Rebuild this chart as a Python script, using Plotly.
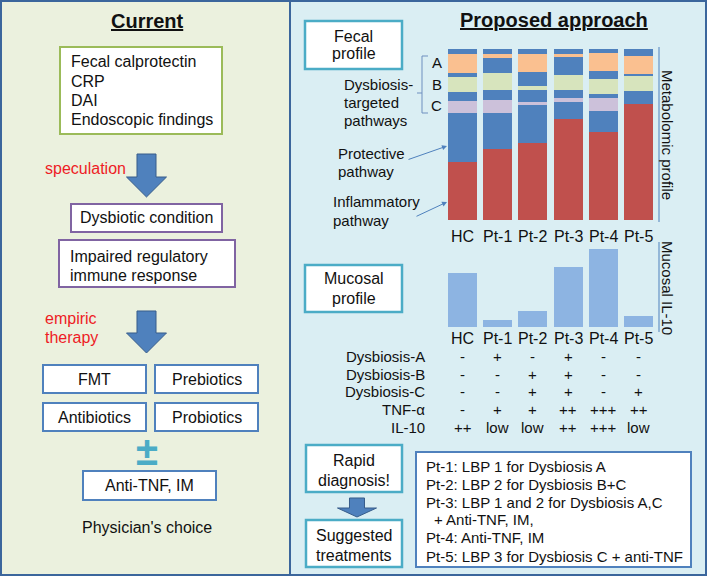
import plotly.graph_objects as go

W, H = 708, 577
FONT = "Liberation Sans, Arial, sans-serif"

# ---------------- data ----------------
categories = ["HC", "Pt-1", "Pt-2", "Pt-3", "Pt-4", "Pt-5"]

# fecal metabolomic profile (% of stacked bar), bottom to top
inflammatory = [33.9, 41.4, 45.0, 59.0, 51.6, 67.8]
protective = [28.7, 21.1, 22.4, 9.8, 12.1, 7.6]
dysbiosis_c = [7.0, 7.6, 1.9, 2.3, 7.4, 0.0]
other_1 = [5.3, 5.8, 6.8, 4.9, 2.5, 0.0]
dysbiosis_b = [8.8, 9.9, 2.3, 8.8, 8.8, 8.8]
other_2 = [2.3, 9.1, 8.0, 10.4, 4.7, 1.2]
dysbiosis_a = [10.8, 2.2, 10.7, 1.9, 10.4, 10.8]
other_3 = [3.2, 2.9, 2.9, 2.9, 2.5, 3.8]

# mucosal IL-10 (relative units)
mucosal_il10 = [54, 7, 16.5, 60, 78, 11]

row_labels = ["Dysbiosis-A", "Dysbiosis-B", "Dysbiosis-C", "TNF-\u03b1", "IL-10"]
row_values = [
    ["-", "+", "-", "+", "-", "-"],
    ["-", "-", "+", "+", "-", "-"],
    ["-", "-", "+", "+", "-", "+"],
    ["-", "+", "+", "++", "+++", "++"],
    ["++", "low", "low", "++", "+++", "low"],
]

current_markers = ["Fecal calprotectin", "CRP", "DAI", "Endoscopic findings"]
empiric_options = [["FMT", "Prebiotics"], ["Antibiotics", "Probiotics"]]
treatment_lines = [
    "Pt-1: LBP 1 for Dysbiosis A",
    "Pt-2: LBP 2 for Dysbiosis B+C",
    "Pt-3: LBP 1 and 2 for Dysbiosis A,C",
    "+ Anti-TNF, IM,",
    "Pt-4: Anti-TNF, IM",
    "Pt-5: LBP 3 for Dysbiosis C + anti-TNF",
]

# ---------------- styles ----------------
RED = "#C0504D"
BLUE = "#4F81BD"
ORANGE = "#FAC090"
GREEN = "#D7E4BD"
LAV = "#CCC1DA"
LIGHTBLUE = "#8DB4E2"
FRAME = "#3B669C"
TEAL = "#4BACC6"


def px(x):
    return x / W


def py(y):
    return 1 - y / H


fig = go.Figure()

stack = [
    ("Inflammatory pathway", inflammatory, RED),
    ("Protective pathway", protective, BLUE),
    ("Dysbiosis C", dysbiosis_c, LAV),
    ("other 1", other_1, BLUE),
    ("Dysbiosis B", dysbiosis_b, GREEN),
    ("other 2", other_2, BLUE),
    ("Dysbiosis A", dysbiosis_a, ORANGE),
    ("other 3", other_3, BLUE),
]
for name, vals, col in stack:
    fig.add_trace(go.Bar(x=categories, y=vals, name=name, marker=dict(color=col, line=dict(width=0)),
                         xaxis="x", yaxis="y", showlegend=False, hoverinfo="skip"))

fig.add_trace(go.Bar(x=categories, y=mucosal_il10, name="Mucosal IL-10",
                     marker=dict(color=LIGHTBLUE, line=dict(width=0)),
                     xaxis="x2", yaxis="y2", showlegend=False, hoverinfo="skip"))

shapes = []
annotations = []


def rect(x0, y0, x1, y1, fill, line=None, lw=0):
    shapes.append(dict(type="rect", xref="paper", yref="paper", x0=px(x0), x1=px(x1), y0=py(y0), y1=py(y1),
                       fillcolor=fill, line=dict(color=line if line else fill, width=lw), layer="below"))


def seg(x0, y0, x1, y1, color, lw=1):
    shapes.append(dict(type="line", xref="paper", yref="paper", x0=px(x0), x1=px(x1), y0=py(y0), y1=py(y1),
                       line=dict(color=color, width=lw)))


def down_arrow(cx, sw, hw, ytop, yhead, ytip, fill=BLUE, line="#385D8A"):
    pts = [(cx - sw / 2, ytop), (cx + sw / 2, ytop), (cx + sw / 2, yhead), (cx + hw / 2, yhead),
           (cx, ytip), (cx - hw / 2, yhead), (cx - sw / 2, yhead)]
    path = "M " + " L ".join(f"{px(a):.5f},{py(b):.5f}" for a, b in pts) + " Z"
    shapes.append(dict(type="path", xref="paper", yref="paper", path=path, fillcolor=fill,
                       line=dict(color=line, width=1)))


def txt(x, y, s, size=16, color="#111111", xanchor="center", angle=0, xref="paper"):
    annotations.append(dict(x=px(x) if xref == "paper" else x, y=py(y), xref=xref, yref="paper", text=s,
                            showarrow=False, xanchor=xanchor, yanchor="middle", textangle=angle,
                            font=dict(family=FONT, size=size, color=color)))


# panels
rect(1, 1, 290, 575, "#EBF1DE", FRAME, 2)
rect(290, 1, 706, 575, "#DAEEF3", FRAME, 2)

# ---------- left panel ----------
txt(147, 21, "<b><u>Current</u></b>", size=20)
rect(60, 47, 222, 134, "white", "#9BBB59", 2)
for i, s in enumerate(current_markers):
    txt(69, 62 + i * 19.2, s, xanchor="left")
down_arrow(146.5, 19, 40, 154, 177, 197)
txt(43, 168, "speculation", color="#EE1C25", xanchor="left")
rect(71, 204, 222, 232, "white", "#8064A2", 2)
txt(146.5, 218, "Dysbiotic condition")
rect(59, 240, 235, 287, "white", "#8064A2", 2)
txt(68, 256, "Impaired regulatory", xanchor="left")
txt(68, 275, "immune response", xanchor="left")
txt(43, 318, "empiric", color="#EE1C25", xanchor="left")
txt(43, 337, "therapy", color="#EE1C25", xanchor="left")
down_arrow(146.5, 19, 40, 311, 333, 353)
for r, row in enumerate(empiric_options):
    y0 = 365 + r * 38
    for c, s in enumerate(row):
        x0 = 43 + c * 112
        rect(x0, y0, x0 + 103, y0 + 28, "white", BLUE, 2)
        txt(x0 + 51.5, y0 + 14, s)
txt(147, 451, "<b>\u00b1</b>", size=40, color=TEAL)
rect(83, 471, 216, 500, "white", BLUE, 2)
txt(149.5, 485.5, "Anti-TNF, IM")
txt(147, 527, "Physician's choice")

# ---------- right panel ----------
txt(554, 20, "<b><u>Proposed approach</u></b>", size=20)
rect(305, 21, 402, 69, "white", TEAL, 2.5)
txt(353.5, 36, "Fecal")
txt(353.5, 54, "profile")
# bracket
seg(422, 56, 422, 113, "#6F8FBF")
seg(422, 56, 428, 56, "#6F8FBF")
seg(422, 113, 428, 113, "#6F8FBF")
seg(417, 93, 422, 93, "#6F8FBF")
txt(437, 63, "A", size=15)
txt(437, 84, "B", size=15)
txt(437, 105, "C", size=15)
txt(342, 85, "Dysbiosis-", size=15, xanchor="left")
txt(342, 102, "targeted", size=15, xanchor="left")
txt(342, 120, "pathways", size=15, xanchor="left")
txt(336, 154, "Protective", size=15, xanchor="left")
txt(336, 172, "pathway", size=15, xanchor="left")
txt(331, 202, "Inflammatory", size=15, xanchor="left")
txt(331, 220, "pathway", size=15, xanchor="left")
for (x0, y0, x1, y1) in [(407, 160, 447, 146), (415, 217, 447, 202)]:
    annotations.append(dict(x=px(x1), y=py(y1), xref="paper", yref="paper", text="", showarrow=True,
                            ax=x0 - x1, ay=y0 - y1, arrowhead=2, arrowsize=1, arrowwidth=1,
                            arrowcolor=BLUE, standoff=0))

# vertical side labels
seg(659, 47, 659, 222, BLUE)
txt(668, 135, "Metabolomic profile", size=15, angle=90)
seg(659, 242, 659, 332, BLUE)
txt(668, 288, "Mucosal IL-10", size=15, angle=90)

for c in categories:
    txt(c, 236, c, xref="x")
    txt(c, 338, c, xref="x2")

rect(305, 265, 402, 312, "white", TEAL, 2.5)
txt(353.5, 279, "Mucosal")
txt(353.5, 298, "profile")

row_y = [356, 374, 391, 409, 427]
for lab, vals, yy in zip(row_labels, row_values, row_y):
    txt(427, yy, lab, size=15, xanchor="right")
    for c, v in zip(categories, vals):
        txt(c, yy, v, size=15, xref="x2")

rect(306, 445, 402, 492, "white", TEAL, 2.5)
txt(354, 460, "Rapid")
txt(354, 480, "diagnosis!")
down_arrow(357, 15, 39, 498, 508, 517)
rect(306, 520, 402, 567, "white", TEAL, 2.5)
txt(354, 535, "Suggested")
txt(354, 555, "treatments")

rect(416, 452, 691, 567, "white", BLUE, 2)
tl_y = [466, 484, 502, 519, 537, 556]
for s, yy in zip(treatment_lines, tl_y):
    txt(432 if s.startswith("+") else 424, yy, s, size=15, xanchor="left")

xdom = [px(444.9), px(656.1)]
fig.update_layout(
    width=W, height=H, margin=dict(l=0, r=0, t=0, b=0),
    paper_bgcolor="white", plot_bgcolor="rgba(0,0,0,0)",
    barmode="stack", bargap=0.176,
    xaxis=dict(domain=xdom, type="category", categoryarray=categories, range=[-0.5, 5.5],
               visible=False, anchor="y"),
    yaxis=dict(domain=[py(220), py(49)], range=[0, 100], visible=False, anchor="x"),
    xaxis2=dict(domain=xdom, type="category", categoryarray=categories, range=[-0.5, 5.5],
                visible=False, anchor="y2"),
    yaxis2=dict(domain=[py(327), py(247)], range=[0, 80], visible=False, anchor="x2"),
    shapes=shapes, annotations=annotations, showlegend=False,
)

fig.write_html("out.html", config={"displayModeBar": False, "staticPlot": True},
               post_script="document.body.style.margin='0px';")
